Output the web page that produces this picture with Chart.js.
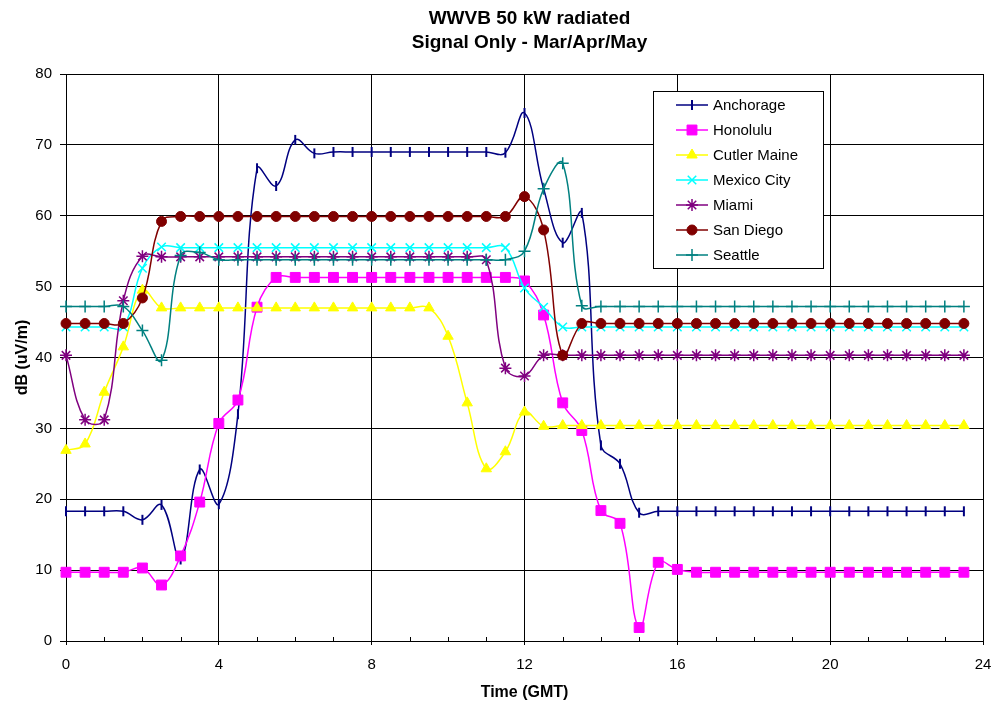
<!DOCTYPE html>
<html>
<head>
<meta charset="utf-8">
<script src="https://cdn.jsdelivr.net/npm/chart.js@4.4.1/dist/chart.umd.min.js"></script>
<style>
  html, body { margin: 0; padding: 0; background: #fff; }
  #wrap { width: 996px; height: 707px; }
</style>
</head>
<body>
<div id="wrap"><canvas id="chart" width="996" height="707"></canvas></div>
<script>
// hours (GMT), one reading every half hour
const hours = [0, 0.5, 1, 1.5, 2, 2.5, 3, 3.5, 4, 4.5, 5, 5.5, 6, 6.5, 7, 7.5, 8, 8.5, 9, 9.5,
    10, 10.5, 11, 11.5, 12, 12.5, 13, 13.5, 14, 14.5, 15, 15.5, 16, 16.5, 17, 17.5, 18, 18.5, 19, 19.5,
    20, 20.5, 21, 21.5, 22, 22.5, 23, 23.5];

const anchorage = [18.3, 18.3, 18.3, 18.3, 17.1, 19.2, 11.5, 24.2, 19.3, 32.0, 66.7, 64.2, 70.7, 68.8, 69.0, 69.0, 69.0, 69.0, 69.0, 69.0,
    69.0, 69.0, 69.0, 68.9, 74.5, 63.8, 56.2, 60.4, 27.6, 25.0, 18.1, 18.3, 18.3, 18.3, 18.3, 18.3, 18.3, 18.3, 18.3, 18.3,
    18.3, 18.3, 18.3, 18.3, 18.3, 18.3, 18.3, 18.3];
const honolulu = [9.7, 9.7, 9.7, 9.7, 10.3, 7.9, 12.0, 19.6, 30.7, 34.0, 47.1, 51.3, 51.3, 51.3, 51.3, 51.3, 51.3, 51.3, 51.3, 51.3,
    51.3, 51.3, 51.3, 51.3, 50.8, 46.0, 33.6, 29.7, 18.4, 16.6, 1.9, 11.1, 10.1, 9.7, 9.7, 9.7, 9.7, 9.7, 9.7, 9.7,
    9.7, 9.7, 9.7, 9.7, 9.7, 9.7, 9.7, 9.7];
const cutlerMaine = [26.9, 27.8, 35.1, 41.5, 49.5, 47.0, 47.0, 47.0, 47.0, 47.0, 47.0, 47.0, 47.0, 47.0, 47.0, 47.0, 47.0, 47.0, 47.0, 47.0,
    43.0, 33.6, 24.3, 26.7, 32.3, 30.3, 30.4, 30.4, 30.4, 30.4, 30.4, 30.4, 30.4, 30.4, 30.4, 30.4, 30.4, 30.4, 30.4, 30.4,
    30.4, 30.4, 30.4, 30.4, 30.4, 30.4, 30.4, 30.4];
const mexicoCity = [44.3, 44.3, 44.3, 44.3, 52.6, 55.6, 55.5, 55.5, 55.5, 55.5, 55.5, 55.5, 55.5, 55.5, 55.5, 55.5, 55.5, 55.5, 55.5, 55.5,
    55.5, 55.5, 55.5, 55.5, 49.8, 47.1, 44.3, 44.3, 44.3, 44.3, 44.3, 44.3, 44.3, 44.3, 44.3, 44.3, 44.3, 44.3, 44.3, 44.3,
    44.3, 44.3, 44.3, 44.3, 44.3, 44.3, 44.3, 44.3];
const miami = [40.3, 31.2, 31.2, 48.0, 54.3, 54.2, 54.2, 54.2, 54.2, 54.2, 54.2, 54.2, 54.2, 54.2, 54.2, 54.2, 54.2, 54.2, 54.2, 54.2,
    54.2, 54.2, 53.8, 38.5, 37.4, 40.3, 40.3, 40.3, 40.3, 40.3, 40.3, 40.3, 40.3, 40.3, 40.3, 40.3, 40.3, 40.3, 40.3, 40.3,
    40.3, 40.3, 40.3, 40.3, 40.3, 40.3, 40.3, 40.3];
const sanDiego = [44.8, 44.8, 44.8, 44.8, 48.4, 59.2, 59.9, 59.9, 59.9, 59.9, 59.9, 59.9, 59.9, 59.9, 59.9, 59.9, 59.9, 59.9, 59.9, 59.9,
    59.9, 59.9, 59.9, 59.9, 62.7, 58.0, 40.3, 44.8, 44.8, 44.8, 44.8, 44.8, 44.8, 44.8, 44.8, 44.8, 44.8, 44.8, 44.8, 44.8,
    44.8, 44.8, 44.8, 44.8, 44.8, 44.8, 44.8, 44.8];
const seattle = [47.2, 47.2, 47.2, 47.2, 43.8, 39.6, 54.4, 54.8, 53.8, 53.8, 53.8, 53.8, 53.8, 53.8, 53.8, 53.8, 53.8, 53.8, 53.8, 53.8,
    53.8, 53.8, 53.8, 53.8, 55.0, 63.8, 67.4, 47.3, 47.2, 47.2, 47.2, 47.2, 47.2, 47.2, 47.2, 47.2, 47.2, 47.2, 47.2, 47.2,
    47.2, 47.2, 47.2, 47.2, 47.2, 47.2, 47.2, 47.2];

const titleLines = ['WWVB 50 kW radiated', 'Signal Only - Mar/Apr/May'];
const FONT = "'Liberation Sans', Arial, sans-serif";

const seriesDefs = [
    { label: 'Anchorage', data: anchorage, color: '#000080', style: 'line', rotation: 90, radius: 5, width: 2 },
    { label: 'Honolulu', data: honolulu, color: '#FF00FF', style: 'rect', rotation: 0, radius: 7, width: 1 },
    { label: 'Cutler Maine', data: cutlerMaine, color: '#FFFF00', style: 'triangle', rotation: 0, radius: 6, width: 1 },
    { label: 'Mexico City', data: mexicoCity, color: '#00FFFF', style: 'crossRot', rotation: 0, radius: 6, width: 1.5 },
    { label: 'Miami', data: miami, color: '#800080', style: 'star', rotation: 0, radius: 6, width: 1.5 },
    { label: 'San Diego', data: sanDiego, color: '#800000', style: 'circle', rotation: 0, radius: 5, width: 1 },
    { label: 'Seattle', data: seattle, color: '#008080', style: 'cross', rotation: 0, radius: 6, width: 1.5 }
];

const datasets = seriesDefs.map(function (s, i) {
    return {
        label: s.label,
        data: hours.map(function (h, j) { return { x: h, y: s.data[j] }; }),
        borderColor: s.color,
        backgroundColor: s.color,
        borderWidth: 1.5,
        tension: 0.4,
        pointStyle: s.style,
        pointRotation: s.rotation,
        pointRadius: s.radius,
        pointBorderWidth: s.width,
        pointBackgroundColor: s.color,
        pointBorderColor: s.color,
        clip: false,
        order: seriesDefs.length - i
    };
});

// chart title, centred over the plot area
const titlePlugin = {
    id: 'twoLineTitle',
    afterDraw(chart) {
        const ctx = chart.ctx;
        const cx = (chart.chartArea.left + chart.chartArea.right) / 2 + 5;
        ctx.save();
        ctx.fillStyle = '#000';
        ctx.font = 'bold 19px ' + FONT;
        ctx.textAlign = 'center';
        ctx.textBaseline = 'middle';
        ctx.fillText(titleLines[0], cx, 19);
        ctx.fillText(titleLines[1], cx, 43);
        ctx.restore();
    }
};

// small inside tick marks every hour on the time axis
const minorTicks = {
    id: 'minorTicks',
    beforeDatasetsDraw(chart) {
        const xs = chart.scales.x;
        const bottom = chart.chartArea.bottom;
        const ctx = chart.ctx;
        ctx.save();
        ctx.strokeStyle = '#000';
        ctx.lineWidth = 1;
        for (let h = 1; h < 24; h++) {
            if (h % 4 === 0) continue;
            const px = Math.round(xs.getPixelForValue(h)) + 0.5;
            ctx.beginPath();
            ctx.moveTo(px, bottom - 4);
            ctx.lineTo(px, bottom);
            ctx.stroke();
        }
        ctx.restore();
    }
};

// legend box inside the plot, Excel style
const boxLegend = {
    id: 'boxLegend',
    afterDraw(chart) {
        const ctx = chart.ctx;
        const left = 653, top = 91, w = 170, h = 177;
        ctx.save();
        ctx.fillStyle = '#fff';
        ctx.fillRect(left, top, w, h);
        ctx.strokeStyle = '#000';
        ctx.lineWidth = 1;
        ctx.strokeRect(left + 0.5, top + 0.5, w, h);
        ctx.font = '15px ' + FONT;
        ctx.textBaseline = 'middle';
        ctx.textAlign = 'left';
        chart.data.datasets.forEach(function (ds, i) {
            const y = 105 + i * 25;
            ctx.strokeStyle = ds.borderColor;
            ctx.lineWidth = 1.5;
            ctx.beginPath();
            ctx.moveTo(676, y);
            ctx.lineTo(708, y);
            ctx.stroke();
            ctx.fillStyle = ds.pointBackgroundColor;
            ctx.strokeStyle = ds.pointBorderColor;
            ctx.lineWidth = ds.pointBorderWidth;
            Chart.helpers.drawPoint(ctx, {
                pointStyle: ds.pointStyle,
                rotation: ds.pointRotation,
                radius: ds.pointRadius,
                borderWidth: ds.pointBorderWidth
            }, 692, y);
            ctx.fillStyle = '#000';
            ctx.fillText(ds.label, 713, y + 1);
        });
        ctx.restore();
    }
};

new Chart(document.getElementById('chart'), {
    type: 'line',
    data: { datasets: datasets },
    options: {
        responsive: false,
        animation: false,
        devicePixelRatio: 1,
        layout: { padding: { top: 74, right: 13, bottom: 0, left: 0 } },
        plugins: {
            legend: { display: false },
            title: { display: false },
            tooltip: { enabled: false }
        },
        scales: {
            x: {
                type: 'linear',
                min: 0,
                max: 24,
                afterFit: function (scale) {
                    scale.height = 66;
                    scale.paddingLeft = 0;
                    scale.paddingRight = 0;
                },
                ticks: {
                    stepSize: 4,
                    color: '#000',
                    padding: 11,
                    maxRotation: 0,
                    font: { family: FONT, size: 15 }
                },
                grid: { color: '#000', lineWidth: 1, tickLength: 4, tickColor: '#000' },
                border: { color: '#000', width: 1 },
                title: {
                    display: true,
                    text: 'Time (GMT)',
                    color: '#000',
                    padding: { top: 0, bottom: 5 },
                    font: { family: FONT, size: 16, weight: 'bold' }
                }
            },
            y: {
                min: 0,
                max: 80,
                afterFit: function (scale) { scale.width = 66; },
                ticks: {
                    stepSize: 10,
                    color: '#000',
                    padding: 8,
                    font: { family: FONT, size: 15 }
                },
                grid: { color: '#000', lineWidth: 1, tickLength: 6, tickColor: '#000' },
                border: { color: '#000', width: 1 },
                title: {
                    display: true,
                    text: 'dB (uV/m)',
                    color: '#000',
                    padding: { top: 13, bottom: 0 },
                    font: { family: FONT, size: 16, weight: 'bold' }
                }
            }
        }
    },
    plugins: [minorTicks, titlePlugin, boxLegend]
});
</script>
</body>
</html>
